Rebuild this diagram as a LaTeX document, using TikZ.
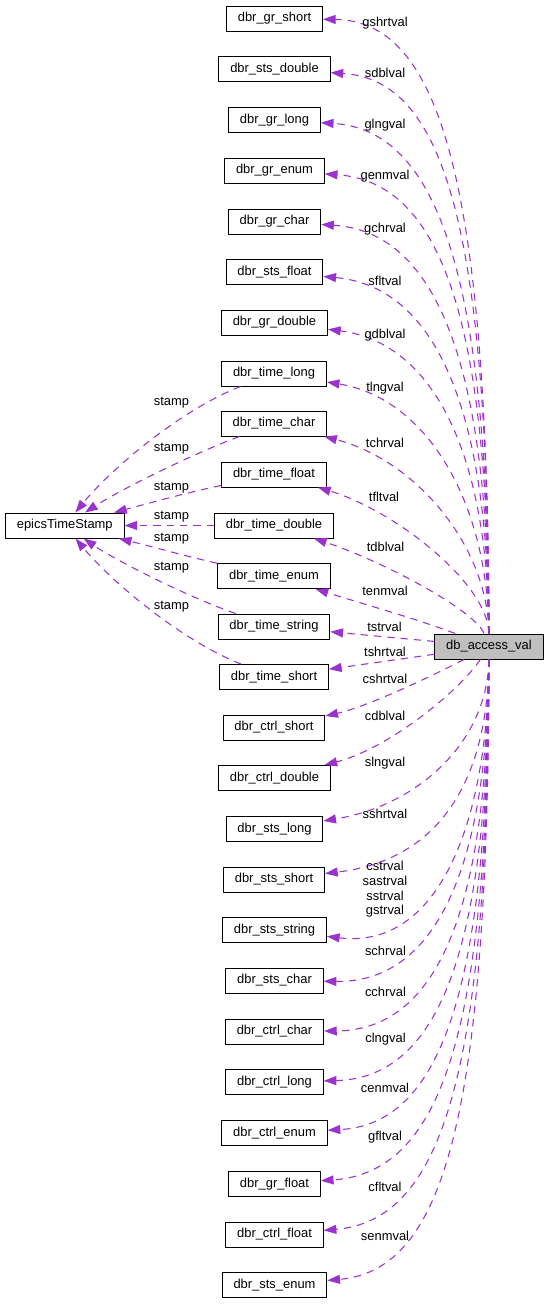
\documentclass[tikz,border=0pt]{standalone}
\usepackage{fontspec}
\setmainfont{Liberation Sans}
\usepackage{xcolor}
\usetikzlibrary{arrows.meta}

\definecolor{edgecol}{HTML}{9A32CD}
\definecolor{accgray}{HTML}{BFBFBF}

\tikzset{
  box/.style={draw=black, line width=0.75pt, minimum height=18.75pt, inner xsep=8.5pt, inner ysep=0pt, font=\fontsize{9.7}{11}\selectfont},
  edge/.style={draw=edgecol, line width=0.8pt, dash pattern=on 5.5pt off 4.5pt, -{Triangle[length=9.5pt,width=6.75pt]}},
  lbl/.style={font=\fontsize{9.7}{11}\selectfont, inner sep=0pt, align=center}
}

\begin{document}
\begin{tikzpicture}[x=0.75pt, y=-0.75pt]
    \useasboundingbox (0,0) rectangle (549,1304);

    % Central struct
    \node[box, fill=accgray] (acc) at (489,646.5) {db\_access\_val};
    \node[box] (ets) at (64.75,525.5) {epicsTimeStamp};

    % Member types
    \node[box] (grshort) at (274.5,18.5) {dbr\_gr\_short};
    \node[box] (stsdouble) at (274.5,69) {dbr\_sts\_double};
    \node[box] (grlong) at (274.5,120) {dbr\_gr\_long};
    \node[box] (grenum) at (274.5,170.5) {dbr\_gr\_enum};
    \node[box] (grchar) at (274.5,221.5) {dbr\_gr\_char};
    \node[box] (stsfloat) at (274.5,272) {dbr\_sts\_float};
    \node[box] (grdouble) at (274.5,322.5) {dbr\_gr\_double};
    \node[box] (tlong) at (274,373.5) {dbr\_time\_long};
    \node[box] (tchar) at (274,423.5) {dbr\_time\_char};
    \node[box] (tfloat) at (274,474.5) {dbr\_time\_float};
    \node[box] (tdouble) at (274,525.5) {dbr\_time\_double};
    \node[box] (tenum) at (274,576) {dbr\_time\_enum};
    \node[box] (tstring) at (274,626.5) {dbr\_time\_string};
    \node[box] (tshort) at (274,677) {dbr\_time\_short};
    \node[box] (ctrlshort) at (274,727.5) {dbr\_ctrl\_short};
    \node[box] (ctrldouble) at (274.5,778) {dbr\_ctrl\_double};
    \node[box] (stslong) at (274.5,829) {dbr\_sts\_long};
    \node[box] (stsshort) at (274,879.5) {dbr\_sts\_short};
    \node[box] (stsstring) at (274.5,930) {dbr\_sts\_string};
    \node[box] (stschar) at (274.5,980.5) {dbr\_sts\_char};
    \node[box] (ctrlchar) at (274.5,1031.5) {dbr\_ctrl\_char};
    \node[box] (ctrllong) at (274.5,1082) {dbr\_ctrl\_long};
    \node[box] (ctrlenum) at (274.5,1133) {dbr\_ctrl\_enum};
    \node[box] (grfloat) at (274.5,1184) {dbr\_gr\_float};
    \node[box] (ctrlfloat) at (274.5,1234.5) {dbr\_ctrl\_float};
    \node[box] (stsenum) at (274.5,1285) {dbr\_sts\_enum};

    % Upper members
    \draw[edge] (acc) .. controls (488,174) and (438,21) .. (grshort);
    \draw[edge] (acc) .. controls (488,225) and (444,80) .. (stsdouble);
    \draw[edge] (acc) .. controls (488,302) and (446,130) .. (grlong);
    \draw[edge] (acc) .. controls (488,331) and (445,182) .. (grenum);
    \draw[edge] (acc) .. controls (488,376) and (441,232) .. (grchar);
    \draw[edge] (acc) .. controls (488,417) and (439,287) .. (stsfloat);
    \draw[edge] (acc) .. controls (488,459) and (436,343) .. (grdouble);
    \draw[edge] (acc) .. controls (488,501) and (426,398) .. (tlong);
    \draw[edge] (acc) .. controls (488,545) and (415,460) .. (tchar);
    \draw[edge] (acc) .. controls (488,583) and (394,510) .. (tfloat);
    \draw[edge] (acc) .. controls (475,610) and (380,560) .. (tdouble);
    \draw[edge] (acc) .. controls (420,620) and (370,606) .. (tenum);
    \draw[edge] (acc) -- (tstring);
    \draw[edge] (acc) -- (tshort);

    % Lower members
    \draw[edge] (acc) .. controls (440,672) and (370,706) .. (ctrlshort);
    \draw[edge] (acc) .. controls (460,690) and (390,748) .. (ctrldouble);
    \draw[edge] (acc) .. controls (488,740) and (420,805) .. (stslong);
    \draw[edge] (acc) .. controls (488,780) and (440,860) .. (stsshort);
    \draw[edge] (acc) .. controls (488,820) and (440,950) .. (stsstring);
    \draw[edge] (acc) .. controls (488,853) and (442,983) .. (stschar);
    \draw[edge] (acc) .. controls (488,894) and (444,1030) .. (ctrlchar);
    \draw[edge] (acc) .. controls (488,934) and (445,1078) .. (ctrllong);
    \draw[edge] (acc) .. controls (488,975) and (446,1124) .. (ctrlenum);
    \draw[edge] (acc) .. controls (488,1020) and (446,1172) .. (grfloat);
    \draw[edge] (acc) .. controls (488,1059) and (447,1220) .. (ctrlfloat);
    \draw[edge] (acc) .. controls (488,1108) and (447,1270) .. (stsenum);

    % Time stamps
    \draw[edge] (tlong) .. controls (180,410) and (110,470) .. (ets);
    \draw[edge] (tchar) .. controls (190,455) and (120,490) .. (ets);
    \draw[edge] (tfloat) .. controls (185,493) and (150,503) .. (ets);
    \draw[edge] (tdouble) -- (ets);
    \draw[edge] (tenum) .. controls (185,556) and (150,546) .. (ets);
    \draw[edge] (tstring) .. controls (190,598) and (115,560) .. (ets);
    \draw[edge] (tshort) .. controls (180,640) and (110,580) .. (ets);

    % Edge labels
    \node[lbl] (l1) at (385,23) {gshrtval};
    \node[lbl] (l2) at (385,72.5) {sdblval};
    \node[lbl] (l3) at (385,125) {glngval};
    \node[lbl] (l4) at (385,176.5) {genmval};
    \node[lbl] (l5) at (385,229) {gchrval};
    \node[lbl] (l6) at (385,280.5) {sfltval};
    \node[lbl] (l7) at (385,335) {gdblval};
    \node[lbl] (l8) at (385,387.7) {tlngval};
    \node[lbl] (l9) at (385,442.7) {tchrval};
    \node[lbl] (l10) at (384,496.7) {tfltval};
    \node[lbl] (l11) at (385.5,547.3) {tdblval};
    \node[lbl] (l12) at (385,591.3) {tenmval};
    \node[lbl] (l13) at (384.5,627.3) {tstrval};
    \node[lbl] (l14) at (385,651.7) {tshrtval};
    \node[lbl] (l15) at (385,679.3) {cshrtval};
    \node[lbl] (l16) at (385,716) {cdblval};
    \node[lbl] (l17) at (385,763.3) {slngval};
    \node[lbl] (l18) at (385,814.3) {sshrtval};
    \node[lbl] (l19) at (385,889.5) {cstrval\\sastrval\\sstrval\\gstrval};
    \node[lbl] (l20) at (385.5,950.7) {schrval};
    \node[lbl] (l21) at (385.5,991.7) {cchrval};
    \node[lbl] (l22) at (385.5,1039) {clngval};
    \node[lbl] (l23) at (385,1087.7) {cenmval};
    \node[lbl] (l24) at (385,1136.7) {gfltval};
    \node[lbl] (l25) at (385,1186.7) {cfltval};
    \node[lbl] (l26) at (385,1235.7) {senmval};

    % Stamp labels
    \node[lbl] (s1) at (171.5,402.7) {stamp};
    \node[lbl] (s2) at (171.5,449) {stamp};
    \node[lbl] (s3) at (171.5,487.7) {stamp};
    \node[lbl] (s4) at (171.5,516.7) {stamp};
    \node[lbl] (s5) at (171.5,539) {stamp};
    \node[lbl] (s6) at (171.5,567.7) {stamp};
    \node[lbl] (s7) at (171.5,606.7) {stamp};
\end{tikzpicture}
\end{document}
